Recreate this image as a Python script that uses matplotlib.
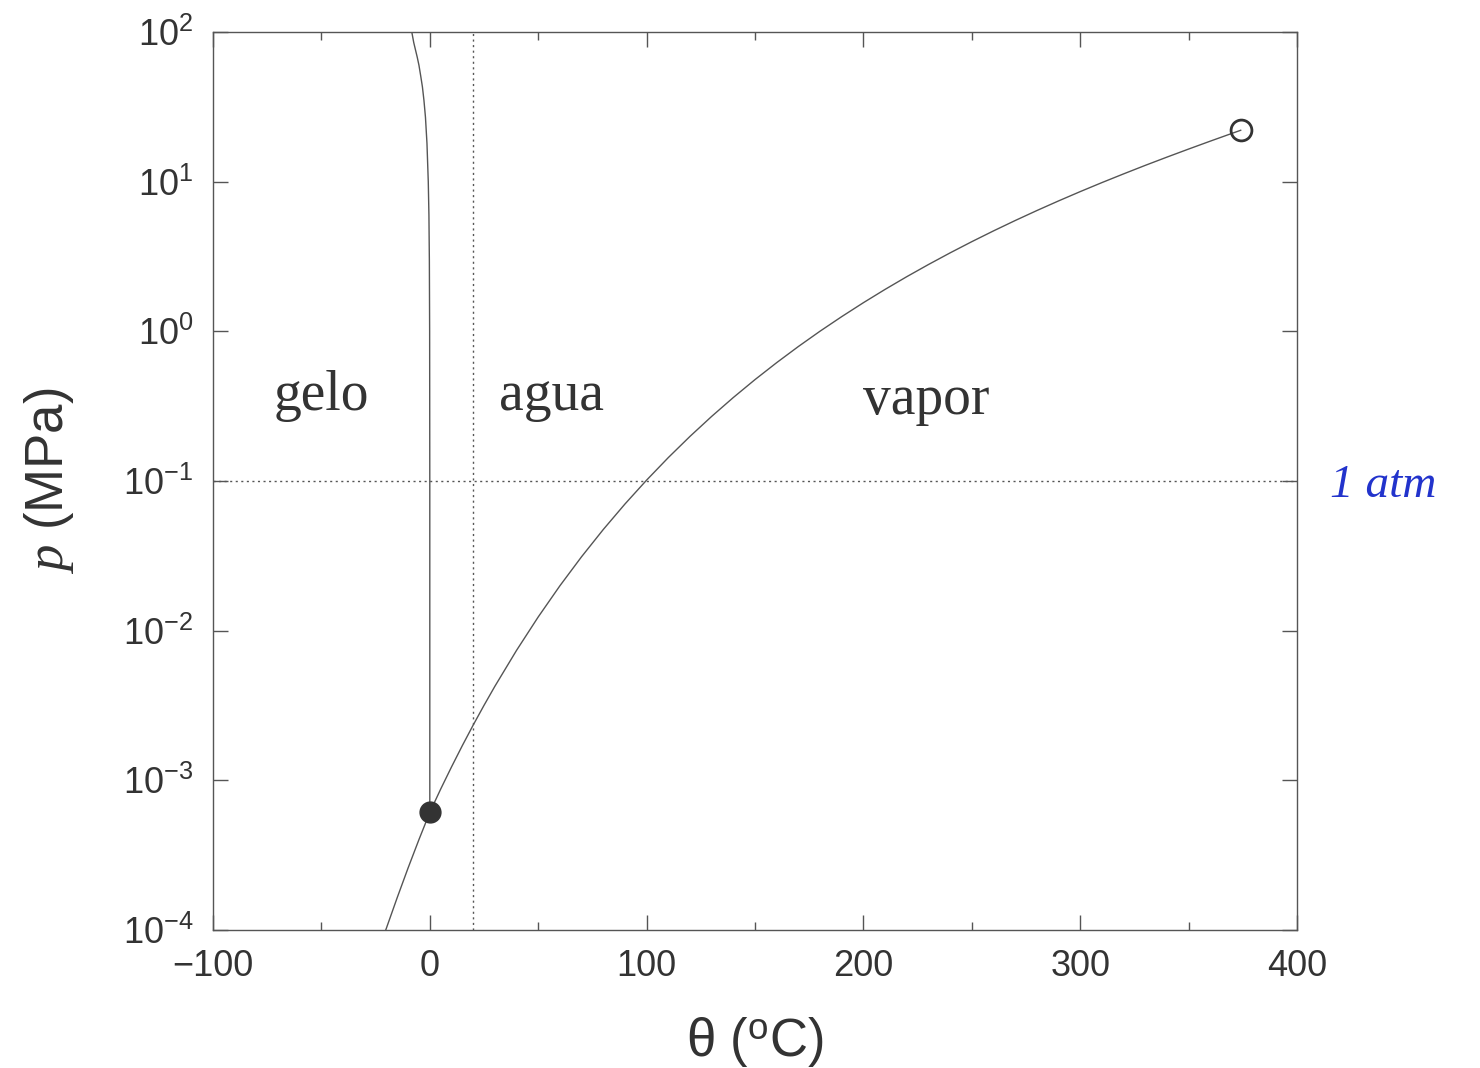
import numpy as np
import matplotlib
matplotlib.use("Agg")
import matplotlib.pyplot as plt
from matplotlib.ticker import FixedLocator, NullLocator, MultipleLocator

# vapor pressure curve (sublimation + boiling)
vap_T = [-21, -20, -15, -10, -5, 0.01, 5, 10, 15, 20, 25, 30, 40, 50, 60, 70,
         80, 90, 100, 110, 120, 130, 140, 150, 160, 170, 180, 190, 200, 210,
         220, 230, 240, 250, 260, 270, 280, 290, 300, 310, 320, 330, 340,
         350, 360, 370, 374]
vap_p = [9.4e-5, 1.03e-4, 1.65e-4, 2.6e-4, 4.02e-4, 6.11e-4, 8.73e-4,
         1.228e-3, 1.706e-3, 2.339e-3, 3.17e-3, 4.247e-3, 7.384e-3, 0.01235,
         0.01995, 0.0312, 0.04741, 0.07018, 0.1014, 0.1434, 0.1987, 0.2703,
         0.3615, 0.4762, 0.6182, 0.7922, 1.003, 1.255, 1.555, 1.908, 2.320,
         2.797, 3.347, 3.976, 4.692, 5.503, 6.417, 7.442, 8.588, 9.865,
         11.28, 12.86, 14.60, 16.53, 18.67, 21.04, 22.06]

# melting curve
melt_T = [0.01, 0.0, -0.07, -0.2, -0.4, -0.7, -1.3, -2.0, -2.7, -3.4, -4.2,
          -5.0, -5.8, -6.6, -7.4, -8.3]
melt_p = [6.11e-4, 0.1, 1.0, 3.0, 6.0, 10.0, 18.0, 27.0, 35.0, 43.0, 51.0,
          60.0, 68.0, 76.0, 85.0, 100.0]

triple = (0.01, 6.11e-4)
critical = (374, 22.06)
room_T = 20
atm_p = 0.1

regions = ["gelo", "agua", "vapor"]
region_T = [-50, 56, 229]
region_p = [0.37, 0.37, 0.35]

ytick_vals = [1e-4, 1e-3, 1e-2, 1e-1, 1e0, 1e1, 1e2]
ytick_labels = [r"$\mathregular{10^{-4}}$", r"$\mathregular{10^{-3}}$",
                r"$\mathregular{10^{-2}}$", r"$\mathregular{10^{-1}}$",
                r"$\mathregular{10^{0}}$", r"$\mathregular{10^{1}}$",
                r"$\mathregular{10^{2}}$"]
xtick_vals = [-100, 0, 100, 200, 300, 400]
xtick_labels = ['\u2212100', '0', '100', '200', '300', '400']

plt.rcParams['font.family'] = ['Liberation Sans', 'DejaVu Sans']
plt.rcParams['mathtext.fontset'] = 'custom'
plt.rcParams['mathtext.rm'] = 'Liberation Sans'
plt.rcParams['mathtext.it'] = 'Liberation Serif:italic'

line_c = '#555555'
txt_c = '#333333'

fig = plt.figure(figsize=(14.8, 10.68), dpi=100)
ax = fig.add_axes([0.1439, 0.1292, 0.7325, 0.8408])

ax.plot(vap_T, vap_p, color=line_c, lw=1.0)
ax.plot(melt_T, melt_p, color=line_c, lw=1.0)
ax.axvline(room_T, color=line_c, lw=1.0, ls=(0, (1.5, 2.5)))
ax.axhline(atm_p, color=line_c, lw=1.0, ls=(0, (1.5, 2.5)))
ax.plot(*triple, 'o', color='#333333', ms=15)
ax.plot(*critical, 'o', mfc='none', mec='#333333', ms=15, mew=2)

for name, t, p in zip(regions, region_T, region_p):
    ax.text(t, p, name, ha='center', va='center', fontsize=40,
            family='Liberation Serif', color=txt_c)

ax.set_yscale('log')
ax.set_xlim(-100, 400)
ax.set_ylim(1e-4, 1e2)
ax.yaxis.set_major_locator(FixedLocator(ytick_vals))
ax.set_yticklabels(ytick_labels)
ax.yaxis.set_minor_locator(NullLocator())
ax.xaxis.set_minor_locator(MultipleLocator(50))
ax.set_xticks(xtick_vals)
ax.set_xticklabels(xtick_labels)

ax.tick_params(which='both', direction='in', top=True, right=True,
               labelsize=26, colors=line_c, labelcolor=txt_c, width=1.0)
ax.tick_params(which='major', length=11, pad=14)
ax.tick_params(which='minor', length=6)
for s in ax.spines.values():
    s.set_color(line_c)
    s.set_linewidth(1.0)

ax.set_xlabel(r'θ ($^{\mathregular{o}}$C)', fontsize=38, color=txt_c,
              labelpad=22)
ax.set_ylabel(r'$\mathit{p}$ (MPa)', fontsize=38, color=txt_c, labelpad=34)

ax.text(1.03, atm_p * 0.93, '1 atm', transform=ax.get_yaxis_transform(),
        fontsize=34, color='#2233cc', style='italic', family='Liberation Serif',
        va='center', ha='left', clip_on=False)

fig.savefig('out.png', dpi=100, facecolor='white')
